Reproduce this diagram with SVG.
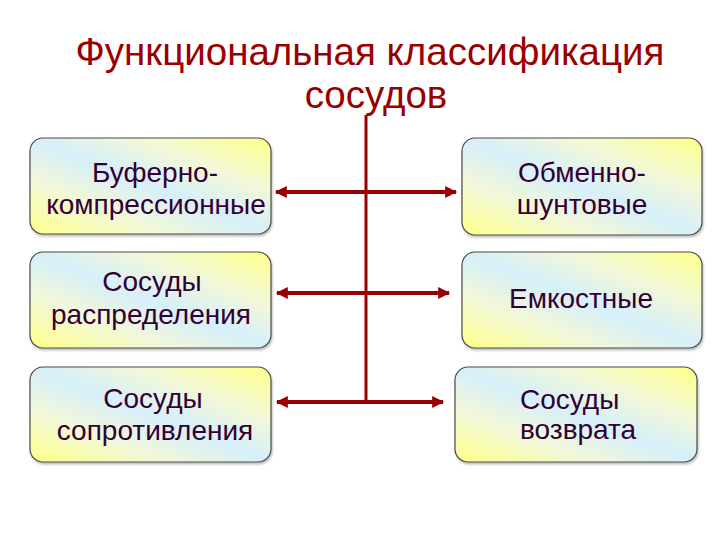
<svg xmlns="http://www.w3.org/2000/svg" width="720" height="540" viewBox="0 0 720 540">
  <defs>
    <linearGradient id="boxFill" x1="1" y1="0" x2="0" y2="1">
      <stop offset="0" stop-color="#FFFF88"/>
      <stop offset="0.28" stop-color="#F2F8D8"/>
      <stop offset="0.5" stop-color="#D6EFFA"/>
      <stop offset="0.72" stop-color="#F2F8D8"/>
      <stop offset="1" stop-color="#FFFF88"/>
    </linearGradient>
    <marker id="ah" viewBox="0 0 10 10" refX="9" refY="5" markerWidth="3.2" markerHeight="3" orient="auto-start-reverse" markerUnits="strokeWidth">
      <path d="M0,0 L10,5 L0,10 z" fill="#990000"/>
    </marker>
    <filter id="sh" x="-5%" y="-5%" width="115%" height="120%">
      <feDropShadow dx="1" dy="2" stdDeviation="1.2" flood-color="#000" flood-opacity="0.25"/>
    </filter>
  </defs>
  <style>
    .box { fill: url(#boxFill); stroke: #4a4a4a; stroke-width: 1.2; filter: url(#sh); }
    .lbl { font-family: "Liberation Sans", Arial, sans-serif; font-size: 28px; fill: #330033; text-anchor: middle; }
    .title { font-family: "Liberation Sans", Arial, sans-serif; font-size: 38.5px; fill: #990000; text-anchor: middle; }
    .conn { stroke: #990000; fill: none; }
  </style>
  <rect width="720" height="540" fill="#ffffff"/>

  <g id="title">
    <text class="title" x="370" y="65">Функциональная классификация</text>
    <text class="title" x="376" y="108">сосудов</text>
  </g>

  <g id="connectors">
    <line class="conn" x1="366" y1="115" x2="366" y2="402" stroke-width="3"/>
    <line class="conn" x1="276" y1="192" x2="456" y2="192" stroke-width="4" marker-start="url(#ah)" marker-end="url(#ah)"/>
    <line class="conn" x1="277" y1="293" x2="449" y2="293" stroke-width="4" marker-start="url(#ah)" marker-end="url(#ah)"/>
    <line class="conn" x1="277" y1="402" x2="443" y2="402" stroke-width="4" marker-start="url(#ah)" marker-end="url(#ah)"/>
  </g>

  <g id="node-buferno">
    <rect class="box" x="30" y="138" width="241" height="96" rx="13"/>
    <text class="lbl" x="155" y="182">Буферно-</text>
    <text class="lbl" x="156" y="214">компрессионные</text>
  </g>
  <g id="node-raspredeleniya">
    <rect class="box" x="30" y="252" width="241" height="96" rx="13"/>
    <text class="lbl" x="152" y="291">Сосуды</text>
    <text class="lbl" x="151" y="324">распределения</text>
  </g>
  <g id="node-soprotivleniya">
    <rect class="box" x="30" y="367" width="241" height="95" rx="13"/>
    <text class="lbl" x="153" y="408">Сосуды</text>
    <text class="lbl" x="155" y="440">сопротивления</text>
  </g>
  <g id="node-obmenno">
    <rect class="box" x="462" y="138" width="240" height="97" rx="13"/>
    <text class="lbl" x="582" y="182">Обменно-</text>
    <text class="lbl" x="582" y="214">шунтовые</text>
  </g>
  <g id="node-emkostnye">
    <rect class="box" x="462" y="252" width="240" height="96" rx="13"/>
    <text class="lbl" x="581" y="308">Емкостные</text>
  </g>
  <g id="node-vozvrata">
    <rect class="box" x="455" y="367" width="242" height="95" rx="13"/>
    <text class="lbl" x="520" y="409" style="text-anchor:start">Сосуды</text>
    <text class="lbl" x="520" y="439" style="text-anchor:start">возврата</text>
  </g>
</svg>
